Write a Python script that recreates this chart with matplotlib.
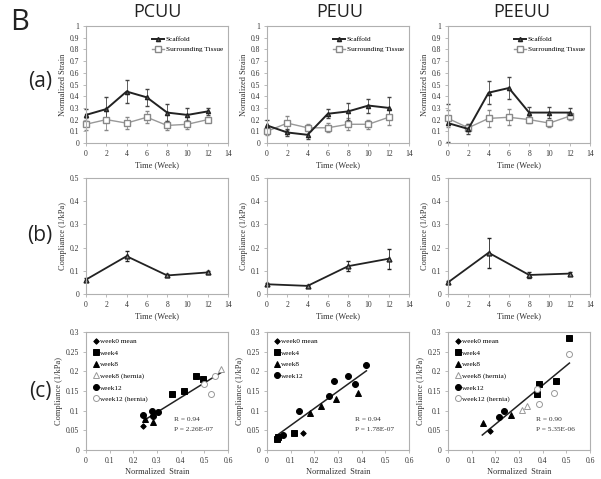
import numpy as np
import matplotlib
matplotlib.use('Agg')
import matplotlib.pyplot as plt
from matplotlib.lines import Line2D

plt.rcParams['font.family'] = ['Liberation Serif', 'DejaVu Serif']

materials = ['PCUU', 'PEUU', 'PEEUU']

# (a) normalized strain over time
weeks_a = [0, 2, 4, 6, 8, 10, 12]
scaffold = {
    'PCUU': [0.24, 0.29, 0.44, 0.39, 0.26, 0.24, 0.27],
    'PEUU': [0.15, 0.09, 0.07, 0.25, 0.27, 0.32, 0.30],
    'PEEUU': [0.17, 0.12, 0.43, 0.47, 0.26, 0.26, 0.26],
}
scaffold_err = {
    'PCUU': [0.05, 0.10, 0.10, 0.07, 0.07, 0.06, 0.03],
    'PEUU': [0.05, 0.03, 0.04, 0.04, 0.07, 0.06, 0.09],
    'PEEUU': [0.16, 0.04, 0.10, 0.09, 0.05, 0.05, 0.04],
}
tissue = {
    'PCUU': [0.16, 0.20, 0.17, 0.22, 0.15, 0.16, 0.20],
    'PEUU': [0.10, 0.17, 0.13, 0.13, 0.16, 0.16, 0.22],
    'PEEUU': [0.21, 0.13, 0.21, 0.22, 0.20, 0.17, 0.23],
}
tissue_err = {
    'PCUU': [0.05, 0.09, 0.05, 0.05, 0.04, 0.04, 0.02],
    'PEUU': [0.03, 0.06, 0.03, 0.04, 0.05, 0.04, 0.07],
    'PEEUU': [0.07, 0.03, 0.07, 0.07, 0.03, 0.03, 0.03],
}

# (b) compliance over time
weeks_b = [0, 4, 8, 12]
compliance = {
    'PCUU': [0.062, 0.163, 0.080, 0.093],
    'PEUU': [0.042, 0.035, 0.120, 0.152],
    'PEEUU': [0.050, 0.178, 0.082, 0.088],
}
compliance_err = {
    'PCUU': [0.008, 0.022, 0.005, 0.006],
    'PEUU': [0.005, 0.005, 0.022, 0.043],
    'PEEUU': [0.006, 0.065, 0.012, 0.008],
}

# (c) compliance vs normalized strain, per group: (strain list, compliance list)
scatter_c = {
    'PCUU': {
        'week0 mean': ([0.242], [0.061]),
        'week4': ([0.363, 0.414, 0.464, 0.493], [0.143, 0.151, 0.187, 0.181]),
        'week8': ([0.250, 0.281], [0.079, 0.072]),
        'week8 (hernia)': ([0.572], [0.205]),
        'week12': ([0.242, 0.278, 0.281, 0.306], [0.090, 0.100, 0.087, 0.096]),
        'week12 (hernia)': ([0.500, 0.530, 0.545], [0.168, 0.143, 0.187]),
    },
    'PEUU': {
        'week0 mean': ([0.151], [0.042]),
        'week4': ([0.042, 0.046, 0.112], [0.028, 0.034, 0.044]),
        'week8': ([0.182, 0.227, 0.290, 0.386], [0.095, 0.111, 0.130, 0.144]),
        'week12': ([0.066, 0.136, 0.262, 0.283, 0.343, 0.372, 0.420],
                   [0.038, 0.098, 0.137, 0.176, 0.189, 0.168, 0.215]),
    },
    'PEEUU': {
        'week0 mean': ([0.177], [0.049]),
        'week4': ([0.374, 0.386, 0.456, 0.513], [0.142, 0.167, 0.176, 0.286]),
        'week8': ([0.148, 0.267], [0.069, 0.090]),
        'week8 (hernia)': ([0.314, 0.335], [0.102, 0.111]),
        'week12': ([0.216, 0.236], [0.083, 0.098]),
        'week12 (hernia)': ([0.374, 0.386, 0.449, 0.513], [0.156, 0.118, 0.145, 0.245]),
    },
}
fit_slope = {'PCUU': 0.373, 'PEUU': 0.434, 'PEEUU': 0.497}
fit_icpt = {'PCUU': -0.016, 'PEUU': 0.019, 'PEEUU': -0.034}
fit_range = {'PCUU': (0.245, 0.575), 'PEUU': (0.042, 0.420), 'PEEUU': (0.145, 0.513)}
r_text = {'PCUU': 'R = 0.94', 'PEUU': 'R = 0.94', 'PEEUU': 'R = 0.90'}
p_text = {'PCUU': 'P = 2.26E-07', 'PEUU': 'P = 1.78E-07', 'PEEUU': 'P = 5.35E-06'}

group_style = {
    'week0 mean': dict(marker='D', ms=2.8, mfc='black', mec='black'),
    'week4': dict(marker='s', ms=4.3, mfc='black', mec='black'),
    'week8': dict(marker='^', ms=4.3, mfc='black', mec='black'),
    'week8 (hernia)': dict(marker='^', ms=4.3, mfc='white', mec='#999999'),
    'week12': dict(marker='o', ms=4.3, mfc='black', mec='black'),
    'week12 (hernia)': dict(marker='o', ms=4.3, mfc='white', mec='#999999'),
}

W, H = 601, 479
fig = plt.figure(figsize=(W / 100, H / 100), dpi=100)

col_left = [86, 267, 448]
ax_w = 142
rows = [(26, 143), (178, 294), (332, 450)]
SPINE = '#b0b0b0'
TICKFS = 5.5


def make_ax(col, row):
    top, bot = rows[row]
    ax = fig.add_axes([col_left[col] / W, 1 - bot / H, ax_w / W, (bot - top) / H])
    for s in ax.spines.values():
        s.set_color(SPINE)
        s.set_linewidth(0.8)
    ax.tick_params(labelsize=TICKFS, length=2, width=0.6, color=SPINE, pad=3,
                   labelcolor='#333333')
    return ax


def fmt(v):
    s = ('%.2f' % v).rstrip('0').rstrip('.')
    return s


def unclip(cont):
    # let markers / error bars spill over the axes edge like the original
    for art in cont.get_children():
        art.set_clip_on(False)


for i, m in enumerate(materials):
    # row a
    ax = make_ax(i, 0)
    eb = ax.errorbar(weeks_a, tissue[m], yerr=tissue_err[m], color='#999999', lw=1.0,
                     marker='s', ms=4.3, mfc='white', mec='#888888', capsize=1.5,
                     elinewidth=0.6, ecolor='#888888')
    unclip(eb)
    eb = ax.errorbar(weeks_a, scaffold[m], yerr=scaffold_err[m], color='#222222', lw=1.4,
                     marker='^', ms=3, mfc='#555555', mec='#222222', capsize=1.5,
                     elinewidth=0.6, ecolor='#444444')
    unclip(eb)
    ax.set_xlim(0, 14)
    ax.set_ylim(0, 1)
    ax.set_xticks(range(0, 15, 2))
    yt = np.round(np.arange(0, 1.01, 0.1), 1)
    ax.set_yticks(yt)
    ax.set_yticklabels([fmt(v) for v in yt])
    ax.set_xlabel('Time (Week)', fontsize=6, labelpad=2, color='#333333')
    ax.set_ylabel('Normalized Strain', fontsize=6, labelpad=2, color='#333333')
    handles = [Line2D([], [], color='#222222', lw=1.4, marker='^', ms=3,
                      mfc='#555555', mec='#222222'),
               Line2D([], [], color='#999999', lw=1.0, marker='s', ms=4,
                      mfc='white', mec='#888888')]
    ax.legend(handles, ['Scaffold', 'Surrounding Tissue'], loc='upper left',
              bbox_to_anchor=(0.42, 0.97), frameon=False, fontsize=5.2,
              handlelength=1.6, handletextpad=0.3, labelspacing=0.6)

    # row b
    ax = make_ax(i, 1)
    eb = ax.errorbar(weeks_b, compliance[m], yerr=compliance_err[m], color='#222222',
                     lw=1.3, marker='^', ms=3.5, mfc='#888888', mec='#222222',
                     capsize=1.5, elinewidth=0.6)
    unclip(eb)
    ax.set_xlim(0, 14)
    ax.set_ylim(0, 0.5)
    ax.set_xticks(range(0, 15, 2))
    yt = np.round(np.arange(0, 0.51, 0.1), 1)
    ax.set_yticks(yt)
    ax.set_yticklabels([fmt(v) for v in yt])
    ax.set_xlabel('Time (Week)', fontsize=6, labelpad=2, color='#333333')
    ax.set_ylabel('Compliance (1/kPa)', fontsize=6, labelpad=2, color='#333333')

    # row c
    ax = make_ax(i, 2)
    x0, x1 = fit_range[m]
    xs = np.array([x0, x1])
    ax.plot(xs, fit_slope[m] * xs + fit_icpt[m], color='#222222', lw=1.1, zorder=1)
    for g, (xv, yv) in scatter_c[m].items():
        st = group_style[g]
        ax.plot(xv, yv, ls='none', label=g, marker=st['marker'], ms=st['ms'],
                mfc=st['mfc'], mec=st['mec'], mew=0.7, zorder=2, clip_on=False)
    ax.set_xlim(0, 0.6)
    ax.set_ylim(0, 0.3)
    xt = np.round(np.arange(0, 0.61, 0.1), 1)
    ax.set_xticks(xt)
    ax.set_xticklabels([fmt(v) for v in xt])
    yt = np.round(np.arange(0, 0.301, 0.05), 2)
    ax.set_yticks(yt)
    ax.set_yticklabels([fmt(v) for v in yt])
    ax.set_xlabel('Normalized  Strain', fontsize=6, labelpad=2, color='#333333')
    ax.set_ylabel('Compliance (1/kPa)', fontsize=6, labelpad=2, color='#333333')
    ax.legend(loc='upper left', bbox_to_anchor=(0.02, 0.99), frameon=False,
              fontsize=5.2, handlelength=0.6, handletextpad=0.3,
              labelspacing=0.75, borderaxespad=0.3)
    ax.text(0.62, 0.26, r_text[m], transform=ax.transAxes, fontsize=5.3,
            color='#333333', va='center')
    ax.text(0.62, 0.17, p_text[m], transform=ax.transAxes, fontsize=5.3,
            color='#333333', va='center')

# column titles and row labels
title_x = [157, 340, 522]
for m, x in zip(materials, title_x):
    fig.text(x / W, 1 - 12 / H, m, fontsize=13, family='Open Sans', ha='center',
             va='center', color='#222222')
fig.text(20 / W, 1 - 22 / H, 'B', fontsize=21, family='Open Sans', ha='center',
         va='center', color='#222222')
for lbl, y in zip(['(a)', '(b)', '(c)'], [82, 235, 392]):
    fig.text(40 / W, 1 - y / H, lbl, fontsize=15, family='Open Sans', ha='center',
             va='center', color='#222222')

fig.savefig('out.png', dpi=100)
